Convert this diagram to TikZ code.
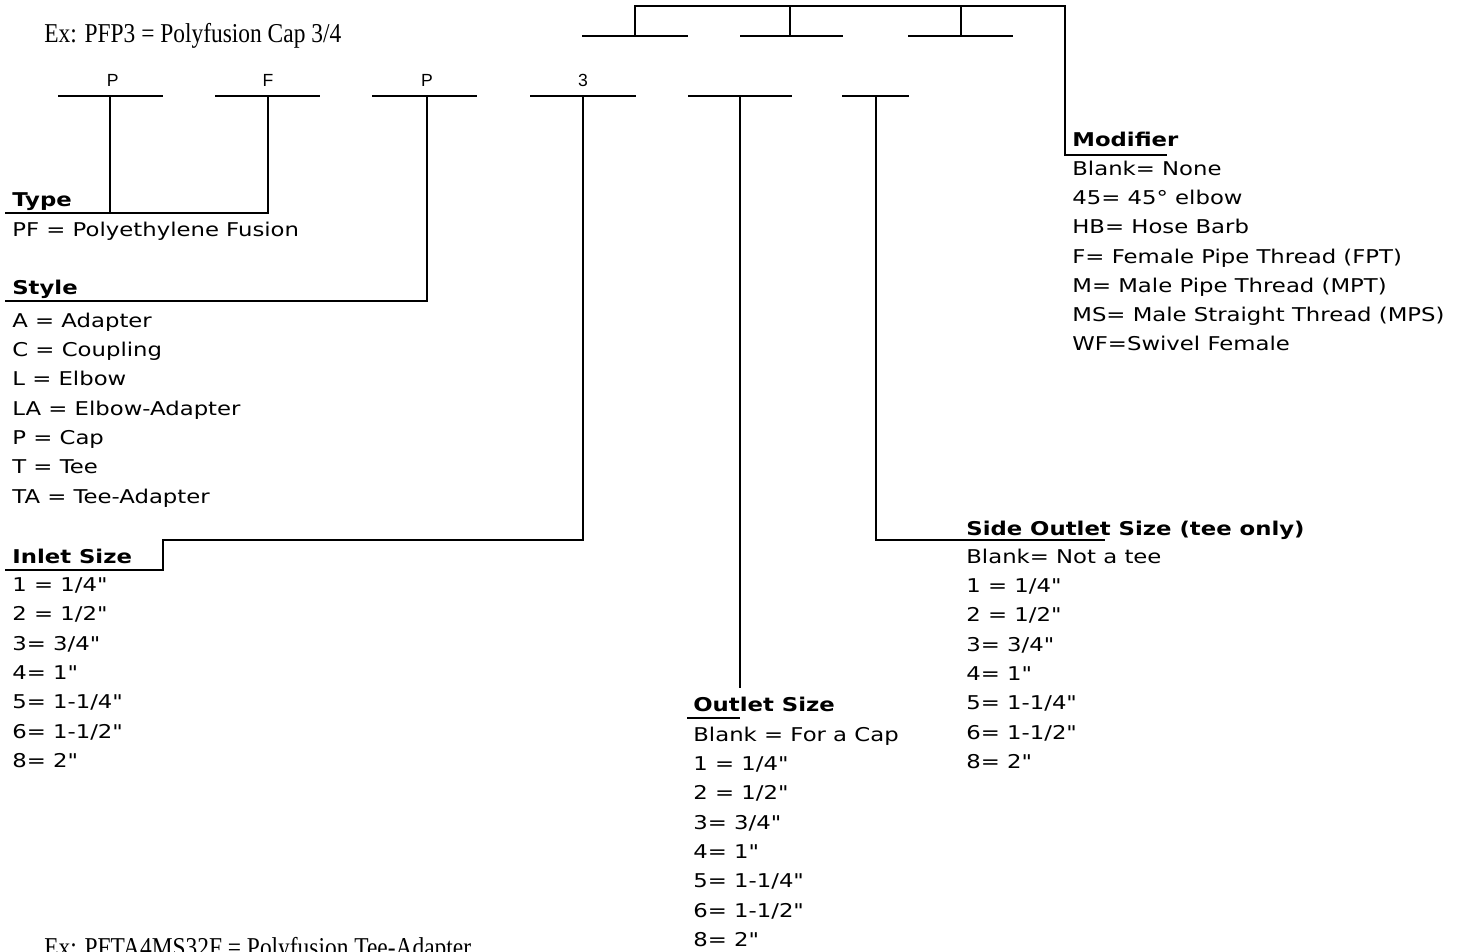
\documentclass[tikz,border=0pt]{standalone}
\usepackage{fontspec}
\setmainfont[FakeStretch=0.86]{Liberation Serif}
\newfontfamily\listfont[FakeStretch=1.2]{DejaVu Sans}
\newfontfamily\letterfont{Liberation Sans}
\usetikzlibrary{positioning}

\begin{document}
\begin{tikzpicture}[
    x=0.02cm, y=-0.02cm,
    bar/.style={line width=1.1pt},
    lead/.style={line width=1.6pt, line join=miter},
    letter/.style={font=\letterfont\fontsize{10}{12}\selectfont, inner sep=0pt},
    head/.style={
        font=\listfont\bfseries\fontsize{10.8}{13}\selectfont,
        anchor=base west,
        inner sep=0pt
    },
    items/.style={
        font=\listfont\fontsize{10.8}{16.67}\selectfont,
        align=left,
        anchor=north west,
        inner sep=0pt
    },
    example/.style={font=\fontsize{15.5}{18}\selectfont, anchor=base west, inner sep=0pt}
]
    \useasboundingbox (0,0) rectangle (1466,952);

    % Examples
    \node[example] (ex1) at (44,43) {Ex: PFP3 = Polyfusion Cap 3/4};
    \node[example] (ex2) at (44,956) {Ex: PFTA4MS32F = Polyfusion Tee-Adapter};

    % Code slots
    \coordinate (s1a) at (58,96);  \coordinate (s1b) at (163,96);
    \coordinate (s2a) at (215,96); \coordinate (s2b) at (320,96);
    \coordinate (s3a) at (372,96); \coordinate (s3b) at (477,96);
    \coordinate (s4a) at (530,96); \coordinate (s4b) at (636,96);
    \coordinate (s5a) at (688,96); \coordinate (s5b) at (792,96);
    \coordinate (s6a) at (842,96); \coordinate (s6b) at (909,96);
    \coordinate (m1a) at (582,36); \coordinate (m1b) at (688,36);
    \coordinate (m2a) at (740,36); \coordinate (m2b) at (843,36);
    \coordinate (m3a) at (908,36); \coordinate (m3b) at (1013,36);
    \draw[bar] (s1a) -- (s1b);
    \draw[bar] (s2a) -- (s2b);
    \draw[bar] (s3a) -- (s3b);
    \draw[bar] (s4a) -- (s4b);
    \draw[bar] (s5a) -- (s5b);
    \draw[bar] (s6a) -- (s6b);
    \draw[bar] (m1a) -- (m1b);
    \draw[bar] (m2a) -- (m2b);
    \draw[bar] (m3a) -- (m3b);

    % Stems
    \coordinate (t1) at (110,96);
    \coordinate (t2) at (268,96);
    \coordinate (t3) at (427,96);
    \coordinate (t4) at (583,96);
    \coordinate (t5) at (740,96);
    \coordinate (t6) at (876,96);
    \coordinate (m1) at (635,36);
    \coordinate (m2) at (790,36);
    \coordinate (m3) at (961,36);

    % Letters
    \node[letter, above=5pt of t1, xshift=1.5pt] (l1) {P};
    \node[letter, above=5pt of t2] (l2) {F};
    \node[letter, above=5pt of t3] (l3) {P};
    \node[letter, above=5pt of t4] (l4) {3};

    % Headings
    \node[head] (type) at (12,207) {Type};
    \node[head] (style) at (12,295) {Style};
    \node[head] (inlet) at (12,563) {Inlet Size};
    \node[head] (outlet) at (693,711) {Outlet Size};
    \node[head] (side) at (966,535) {Side Outlet Size (tee only)};
    \node[head] (mod) at (1072,147) {Modifier};

    % Lists
    \node[items] (typelist) at (12,221.5) {PF = Polyethylene Fusion};
    \node[items] (stylelist) at (12,312.5) {A = Adapter\\C = Coupling\\L = Elbow\\LA = Elbow-Adapter\\P = Cap\\T = Tee\\TA = Tee-Adapter};
    \node[items] (inletlist) at (12,577.5) {1 = 1/4"\\2 = 1/2"\\3= 3/4"\\4= 1"\\5= 1-1/4"\\6= 1-1/2"\\8= 2"};
    \node[items] (outletlist) at (693,726.5) {Blank = For a Cap\\1 = 1/4"\\2 = 1/2"\\3= 3/4"\\4= 1"\\5= 1-1/4"\\6= 1-1/2"\\8= 2"};
    \node[items] (sidelist) at (966,548.5) {Blank= Not a tee\\1 = 1/4"\\2 = 1/2"\\3= 3/4"\\4= 1"\\5= 1-1/4"\\6= 1-1/2"\\8= 2"};
    \node[items] (modlist) at (1072,160.5) {Blank= None\\45= 45° elbow\\HB= Hose Barb\\F= Female Pipe Thread (FPT)\\M= Male Pipe Thread (MPT)\\MS= Male Straight Thread (MPS)\\WF=Swivel Female};

    % Underlines and leaders
    \coordinate (u1) at (5,213);
    \coordinate (u2) at (5,301);
    \coordinate (k3) at (163,540);
    \coordinate (u3) at (5,570);
    \coordinate (e5) at (740,688);
    \coordinate (u4) at (687,718);
    \coordinate (u5) at (1105,540);
    \coordinate (j) at (1065,6);
    \coordinate (u6) at (1167,155);
    \draw[lead] (t1) -- (t1 |- u1);
    \draw[lead] (t2) -- (t2 |- u1) -- (u1);
    \draw[lead] (t3) |- (u2);
    \draw[lead] (t4) |- (k3) |- (u3);
    \draw[lead] (t5) -- (e5);
    \draw[lead] (u4) -- (u4 -| t5);
    \draw[lead] (t6) |- (u5);
    \draw[lead] (m1) |- (j) |- (u6);
    \draw[lead] (m2) -- (m2 |- j);
    \draw[lead] (m3) -- (m3 |- j);
\end{tikzpicture}
\end{document}
